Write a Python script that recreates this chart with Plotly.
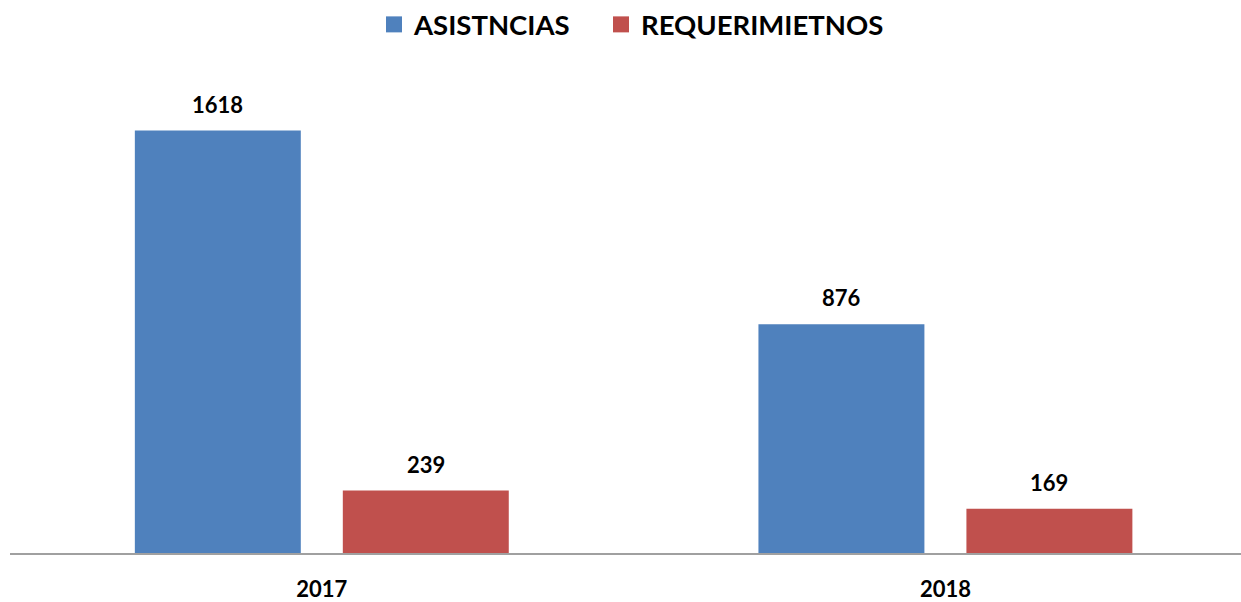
import plotly.graph_objects as go

categories = ["2017", "2018"]
series_names = ["ASISTNCIAS", "REQUERIMIETNOS"]
asistencias = [1618, 876]
requerimientos = [239, 169]
colors = ["#4F81BD", "#C0504D"]

FONT = "Lato"
W, H = 1241, 602
ML, MR, MT, MB = 10, 0, 59, 39

legend_ids = ["legend", "legend2"]
legend_x = [0.2957, 0.4801]

fig = go.Figure()
series_values = [asistencias, requerimientos]
for name, vals, col, lg in zip(series_names, series_values, colors, legend_ids):
    fig.add_trace(go.Bar(x=categories, y=vals, name=name, marker_color=col,
                         marker_line_width=0, showlegend=False))
    fig.add_trace(go.Scatter(x=[None], y=[None], mode="markers", name=name,
                             legend=lg,
                             marker=dict(symbol="square", size=17, color=col)))

# data labels above bars
offsets = [-104, 104]
for vals, dx in zip(series_values, offsets):
    for i, v in enumerate(vals):
        fig.add_annotation(x=i, y=v, xref="x", yref="y", text=f"<b>{v}</b>",
                           showarrow=False, xshift=dx, yshift=11, yanchor="bottom",
                           font=dict(family=FONT, size=22, color="black"))

legend_style = dict(orientation="h", xanchor="left", y=1.07, yanchor="middle",
                    font=dict(family=FONT, size=27.5, color="black", weight="bold"),
                    itemsizing="trace", bgcolor="rgba(0,0,0,0)")

fig.update_layout(
    width=W, height=H,
    margin=dict(l=ML, r=MR, t=MT, b=MB),
    paper_bgcolor="white", plot_bgcolor="white",
    barmode="group", bargap=0.333, bargroupgap=0.202,
    showlegend=True,
    legend=dict(x=legend_x[0], **legend_style),
    legend2=dict(x=legend_x[1], **legend_style),
    font=dict(family=FONT, color="black"),
)
fig.update_xaxes(type="category", range=[-0.5, 1.474], showgrid=False,
                 showline=True, linecolor="#A0A0A0", linewidth=2,
                 ticks="outside", ticklen=16, tickcolor="rgba(0,0,0,0)",
                 tickfont=dict(family=FONT, size=22, color="black", weight="bold"),
                 tickvals=categories, ticktext=categories)
fig.update_yaxes(range=[0, 1892], visible=False, showgrid=False)

fig.write_html("out.html", config={"displayModeBar": False},
               post_script="document.body.style.margin='0';")
